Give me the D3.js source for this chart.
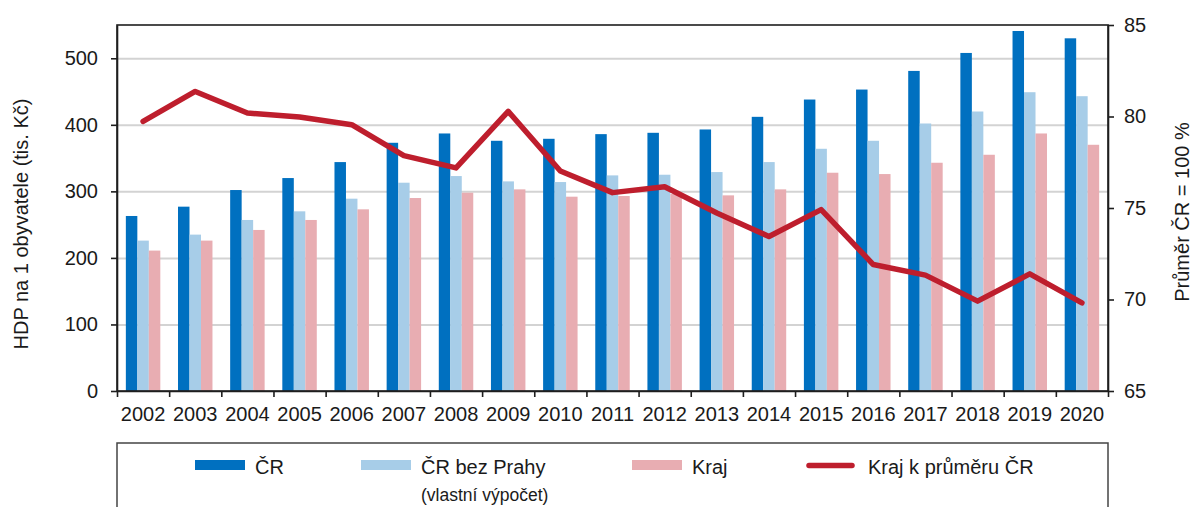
<!DOCTYPE html>
<html>
<head>
<meta charset="utf-8">
<script src="https://cdn.jsdelivr.net/npm/d3@7"></script>
<style>
  html, body { margin: 0; padding: 0; background: #fff; }
  svg text { font-family: "Liberation Sans", Arial, sans-serif; fill: #1a1a1a; }
</style>
</head>
<body>
<script>
// values
const years = ["2002", "2003", "2004", "2005", "2006", "2007", "2008", "2009", "2010", "2011",
  "2012", "2013", "2014", "2015", "2016", "2017", "2018", "2019", "2020"];
const cr = [263, 277, 302, 320, 344, 373, 387, 376, 379, 386, 388, 393, 412, 438, 453, 481, 508, 541, 530];
const crBezPrahy = [226, 235, 257, 270, 289, 313, 323, 315, 314, 324, 325, 329, 344, 364, 376, 402, 420, 449, 443];
const kraj = [211, 226, 242, 257, 273, 290, 298, 303, 292, 293, 296, 294, 303, 328, 326, 343, 355, 387, 370];
const krajPct = [79.73, 81.37, 80.19, 79.97, 79.55, 77.86, 77.19, 80.28, 77.02, 75.84, 76.16, 74.73,
  73.44, 74.91, 71.91, 71.33, 69.91, 71.40, 69.82];

const seriesNames = ["ČR", "ČR bez Prahy", "Kraj"];
const lineName = "Kraj k průměru ČR";
const noteText = "(vlastní výpočet)";
const leftTicks = [0, 100, 200, 300, 400, 500];
const rightTicks = [65, 70, 75, 80, 85];
const leftTitle = "HDP na 1 obyvatele (tis. Kč)";
const rightTitle = "Průměr ČR = 100 %";

const colors = { "ČR": "#0070c0", "ČR bez Prahy": "#a7cde8", "Kraj": "#e8adb2" };
const lineColor = "#be1e2d";

const width = 1192;
const height = 507;
const plotLeft = 117, plotRight = 1108, plotTop = 25, plotBottom = 391;

const svg = d3.select("body").append("svg")
  .attr("width", width)
  .attr("height", height);

const x0 = d3.scaleBand().domain(years).range([plotLeft, plotRight]).padding(0);
const x1 = d3.scaleBand().domain(seriesNames).range([0, x0.bandwidth()])
  .paddingInner(0).paddingOuter(0.77);
const xi = d3.scaleLinear().domain([0, years.length]).range([plotLeft, plotRight]);
const y = d3.scaleLinear().domain([0, 550]).range([plotBottom, plotTop]);
const yR = d3.scaleLinear().domain([65, 85]).range([plotBottom, plotTop]);

// gridlines
svg.append("g")
  .attr("transform", `translate(${plotLeft},0)`)
  .call(d3.axisLeft(y).tickValues(leftTicks.slice(1)).tickSize(-(plotRight - plotLeft)).tickFormat(""))
  .call(g => g.select(".domain").remove())
  .call(g => g.selectAll("line").attr("stroke", "#d3d3d3").attr("stroke-width", 2));

// bars
const rows = years.map((yr, i) => ({ year: yr, values: [cr[i], crBezPrahy[i], kraj[i]] }));

svg.append("g").selectAll("g")
  .data(rows)
  .join("g")
  .attr("transform", d => `translate(${x0(d.year)},0)`)
  .selectAll("rect")
  .data(d => d.values.map((v, k) => ({ key: seriesNames[k], value: v })))
  .join("rect")
  .attr("x", d => x1(d.key))
  .attr("width", x1.bandwidth())
  .attr("y", d => y(d.value))
  .attr("height", d => y(0) - y(d.value))
  .attr("fill", d => colors[d.key]);

// frame
svg.append("rect")
  .attr("x", plotLeft).attr("y", plotTop)
  .attr("width", plotRight - plotLeft).attr("height", plotBottom - plotTop)
  .attr("fill", "none").attr("stroke", "#1e1e1e").attr("stroke-width", 1.6);

const styleAxis = g => {
  g.selectAll("line, path").attr("stroke", "#1e1e1e").attr("stroke-width", 1.6);
  g.selectAll("text").attr("font-size", 20).attr("fill", "#1a1a1a")
    .attr("font-family", "Liberation Sans, Arial, sans-serif");
};

svg.append("g")
  .attr("transform", `translate(${plotLeft},0)`)
  .call(d3.axisLeft(y).tickValues(leftTicks).tickSize(6).tickSizeOuter(0).tickPadding(13))
  .call(styleAxis);

svg.append("g")
  .attr("transform", `translate(${plotRight},0)`)
  .call(d3.axisRight(yR).tickValues(rightTicks).tickSize(6).tickSizeOuter(0).tickPadding(10))
  .call(styleAxis);

svg.append("g")
  .attr("transform", `translate(0,${plotBottom})`)
  .call(d3.axisBottom(xi).tickValues(d3.range(years.length + 1)).tickSize(6).tickSizeOuter(0).tickFormat(""))
  .call(styleAxis);

svg.append("g")
  .attr("transform", `translate(0,${plotBottom})`)
  .call(d3.axisBottom(x0).tickSize(0).tickPadding(16))
  .call(g => g.select(".domain").remove())
  .call(styleAxis);

// line on the right axis
const line = d3.line()
  .x((d, i) => x0(years[i]) + x0.bandwidth() / 2)
  .y(d => yR(d));

svg.append("path")
  .datum(krajPct)
  .attr("d", line)
  .attr("fill", "none")
  .attr("stroke", lineColor)
  .attr("stroke-width", 5.5)
  .attr("stroke-linejoin", "round")
  .attr("stroke-linecap", "round");

// axis titles
svg.append("text")
  .attr("transform", `translate(28,224) rotate(-90)`)
  .attr("text-anchor", "middle")
  .attr("font-size", 20)
  .text(leftTitle);

svg.append("text")
  .attr("transform", `translate(1189,212) rotate(-90)`)
  .attr("text-anchor", "middle")
  .attr("font-size", 20)
  .text(rightTitle);

// legend
const legend = svg.append("g");
legend.append("rect")
  .attr("x", plotLeft).attr("y", 443)
  .attr("width", plotRight - plotLeft).attr("height", 100)
  .attr("fill", "none").attr("stroke", "#444").attr("stroke-width", 1.5);

const swatchX = [195, 361, 632];
seriesNames.forEach((name, k) => {
  legend.append("rect")
    .attr("x", swatchX[k]).attr("y", 460)
    .attr("width", 50).attr("height", 10)
    .attr("fill", colors[name]);
  legend.append("text")
    .attr("x", swatchX[k] + 60).attr("y", 474)
    .attr("font-size", 20)
    .text(name);
});

legend.append("line")
  .attr("x1", 809).attr("x2", 852)
  .attr("y1", 465.5).attr("y2", 465.5)
  .attr("stroke", lineColor).attr("stroke-width", 5.5)
  .attr("stroke-linecap", "round");
legend.append("text")
  .attr("x", 868).attr("y", 474)
  .attr("font-size", 20)
  .text(lineName);

legend.append("text")
  .attr("x", 421).attr("y", 501)
  .attr("font-size", 17.5)
  .text(noteText);
</script>
</body>
</html>
